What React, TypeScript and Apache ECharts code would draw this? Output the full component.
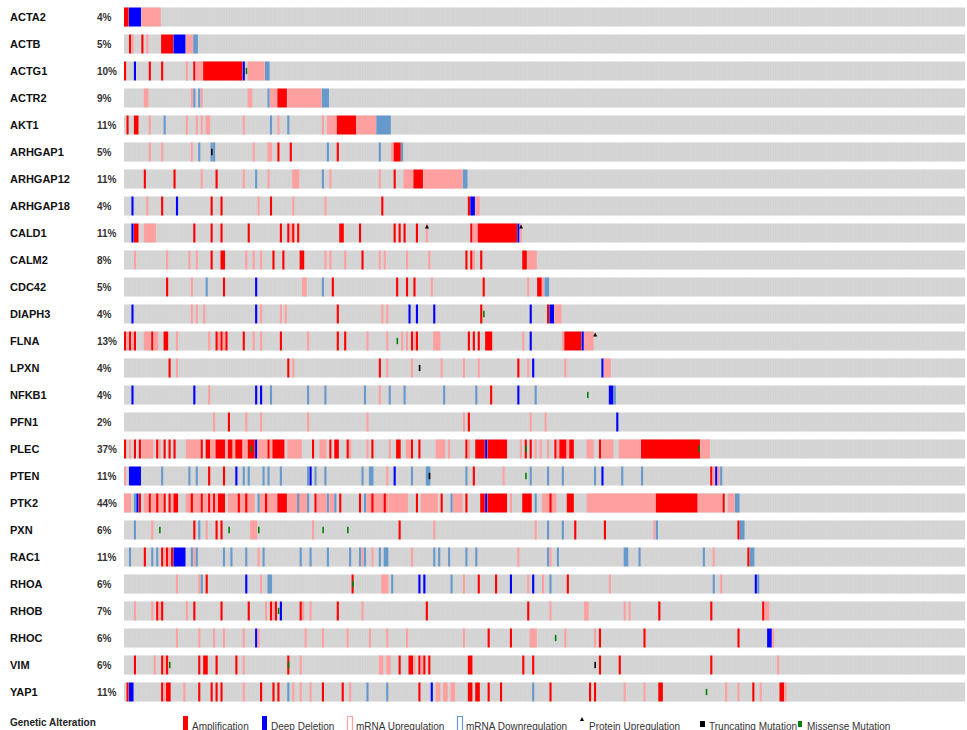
import React, { useEffect, useRef } from "react";
import * as echarts from "echarts";

type Seg = [number, number, string];

const N_SAMPLES = 340;

const GENES = ["ACTA2","ACTB","ACTG1","ACTR2","AKT1","ARHGAP1","ARHGAP12","ARHGAP18","CALD1","CALM2","CDC42","DIAPH3","FLNA","LPXN","NFKB1","PFN1","PLEC","PTEN","PTK2","PXN","RAC1","RHOA","RHOB","RHOC","VIM","YAP1"];
const PCTS = ["4%","5%","10%","9%","11%","5%","11%","4%","11%","8%","5%","4%","13%","4%","4%","2%","37%","11%","44%","6%","11%","6%","7%","6%","6%","11%"];

// [startSample, endSample, type]  A=amp D=deep del U=mRNA up W=mRNA down M=missense T=truncating P=protein up
const ACTA2: Seg[] = [[0,1,"A"],[2,6,"D"],[7,14,"U"]];
const ACTB: Seg[] = [[2,2,"A"],[3,3,"U"],[7,7,"A"],[9,9,"U"],[15,19,"A"],[20,24,"D"],[25,27,"U"],[28,29,"W"]];
const ACTG1: Seg[] = [[0,0,"A"],[4,4,"D"],[10,10,"A"],[15,15,"A"],[25,25,"U"],[28,28,"A"],[29,31,"U"],[32,47,"A"],[48,48,"D"],[49,49,"M"],[50,56,"U"],[57,58,"W"]];
const ACTR2: Seg[] = [[8,9,"U"],[27,27,"U"],[28,28,"W"],[30,30,"W"],[31,31,"U"],[50,51,"U"],[58,58,"W"],[59,61,"U"],[62,65,"A"],[66,79,"U"],[80,82,"W"]];
const AKT1: Seg[] = [[1,1,"A"],[4,5,"A"],[10,10,"U"],[16,16,"W"],[25,25,"U"],[29,29,"U"],[31,31,"U"],[33,34,"U"],[48,48,"U"],[59,59,"W"],[62,62,"U"],[66,66,"W"],[80,80,"U"],[82,85,"U"],[86,93,"A"],[94,101,"U"],[102,107,"W"]];
const ARHGAP1: Seg[] = [[10,10,"U"],[15,15,"U"],[27,27,"U"],[30,30,"W"],[35,35,"W"],[35,35,"T"],[36,36,"W"],[52,52,"U"],[58,59,"U"],[62,62,"A"],[67,67,"A"],[82,82,"W"],[86,86,"A"],[103,103,"W"],[108,108,"U"],[109,111,"A"],[112,112,"W"]];
const ARHGAP12: Seg[] = [[8,8,"A"],[20,20,"A"],[31,31,"U"],[37,37,"A"],[48,48,"U"],[53,53,"W"],[58,58,"U"],[68,70,"U"],[80,80,"W"],[83,83,"U"],[103,103,"U"],[109,109,"A"],[113,116,"U"],[117,120,"A"],[121,136,"U"],[137,138,"W"]];
const ARHGAP18: Seg[] = [[3,3,"D"],[9,9,"U"],[15,15,"A"],[21,21,"D"],[35,35,"A"],[39,39,"A"],[54,54,"U"],[59,59,"A"],[68,68,"U"],[81,81,"U"],[104,104,"A"],[139,139,"A"],[140,141,"D"],[142,143,"U"]];
const CALD1: Seg[] = [[3,3,"D"],[4,5,"A"],[8,12,"U"],[28,28,"A"],[35,35,"A"],[39,39,"A"],[50,50,"A"],[63,63,"A"],[66,66,"A"],[67,67,"U"],[68,68,"A"],[70,70,"A"],[87,88,"A"],[95,95,"A"],[109,109,"A"],[111,111,"A"],[113,113,"A"],[118,118,"A"],[122,122,"U"],[122,122,"P"],[140,140,"A"],[141,142,"U"],[143,158,"A"],[159,159,"D"],[160,160,"U"],[160,160,"P"]];
const CALM2: Seg[] = [[4,4,"U"],[17,17,"U"],[26,26,"U"],[29,29,"U"],[35,35,"A"],[39,40,"A"],[49,49,"U"],[52,52,"U"],[55,55,"U"],[60,60,"A"],[64,64,"A"],[71,72,"A"],[81,81,"U"],[83,83,"U"],[89,89,"U"],[96,96,"A"],[103,103,"U"],[105,105,"U"],[114,114,"U"],[123,123,"U"],[138,138,"A"],[140,140,"A"],[141,141,"U"],[144,144,"A"],[161,162,"A"],[163,166,"U"]];
const CDC42: Seg[] = [[17,17,"A"],[27,27,"U"],[33,33,"W"],[40,40,"A"],[53,53,"D"],[72,73,"U"],[80,80,"W"],[84,84,"A"],[110,110,"A"],[114,114,"A"],[117,117,"A"],[124,124,"U"],[145,145,"A"],[163,163,"U"],[167,168,"A"],[169,169,"U"],[170,171,"W"]];
const DIAPH3: Seg[] = [[3,3,"D"],[27,27,"U"],[29,29,"U"],[32,32,"U"],[53,53,"D"],[55,55,"U"],[63,63,"U"],[65,65,"U"],[86,86,"A"],[104,104,"U"],[106,106,"U"],[115,115,"D"],[118,118,"D"],[125,125,"D"],[144,144,"A"],[145,145,"M"],[164,164,"D"],[171,171,"A"],[172,173,"D"],[174,176,"U"]];
const FLNA: Seg[] = [[0,0,"A"],[1,1,"U"],[2,2,"A"],[3,3,"U"],[4,4,"A"],[8,10,"U"],[11,11,"A"],[12,13,"U"],[16,17,"A"],[21,21,"U"],[34,34,"U"],[37,37,"A"],[38,38,"U"],[39,39,"A"],[40,40,"U"],[41,41,"A"],[48,48,"A"],[52,52,"U"],[55,55,"U"],[63,63,"A"],[74,74,"U"],[86,86,"A"],[89,89,"A"],[98,98,"U"],[106,106,"U"],[110,110,"M"],[112,112,"U"],[114,114,"U"],[116,116,"A"],[117,117,"U"],[118,118,"A"],[125,127,"U"],[139,139,"A"],[141,141,"A"],[143,143,"A"],[146,148,"A"],[161,161,"U"],[164,164,"D"],[177,177,"U"],[178,184,"A"],[185,185,"D"],[186,189,"U"],[190,190,"P"]];
const LPXN: Seg[] = [[18,18,"A"],[21,21,"U"],[66,66,"A"],[68,68,"U"],[103,103,"A"],[106,106,"U"],[116,116,"U"],[119,119,"T"],[128,128,"U"],[137,137,"U"],[143,143,"U"],[159,159,"A"],[163,163,"U"],[165,165,"D"],[178,178,"U"],[193,193,"D"],[194,196,"U"]];
const NFKB1: Seg[] = [[3,3,"D"],[28,28,"D"],[34,34,"U"],[53,53,"D"],[55,55,"D"],[59,59,"W"],[74,74,"W"],[81,81,"W"],[97,97,"W"],[103,103,"U"],[107,107,"W"],[113,113,"W"],[129,129,"W"],[142,142,"W"],[148,148,"A"],[159,159,"D"],[166,166,"W"],[187,187,"M"],[196,197,"D"],[198,198,"W"]];
const PFN1: Seg[] = [[36,36,"U"],[42,42,"A"],[49,49,"U"],[55,55,"U"],[74,74,"U"],[98,98,"U"],[137,137,"U"],[139,139,"A"],[164,164,"U"],[170,170,"U"],[199,199,"D"]];
const PLEC: Seg[] = [[0,0,"A"],[2,2,"U"],[4,4,"A"],[6,6,"A"],[7,11,"U"],[13,13,"A"],[14,14,"U"],[16,16,"A"],[18,18,"A"],[20,20,"A"],[25,30,"U"],[31,31,"A"],[33,34,"A"],[35,36,"U"],[37,40,"A"],[41,41,"U"],[42,43,"A"],[44,44,"U"],[45,47,"A"],[48,49,"U"],[50,52,"A"],[51,51,"M"],[53,53,"D"],[54,57,"U"],[58,58,"A"],[59,59,"U"],[60,64,"A"],[66,71,"U"],[76,76,"A"],[79,81,"U"],[83,83,"A"],[85,86,"A"],[90,90,"A"],[91,91,"U"],[98,98,"U"],[100,100,"A"],[107,107,"U"],[110,111,"A"],[114,115,"U"],[116,116,"A"],[119,119,"A"],[126,129,"U"],[131,131,"U"],[138,138,"A"],[139,139,"U"],[142,145,"A"],[146,146,"D"],[147,154,"A"],[160,160,"U"],[162,162,"A"],[162,162,"M"],[164,164,"A"],[166,166,"U"],[168,168,"U"],[171,171,"U"],[174,174,"A"],[175,175,"U"],[176,178,"A"],[179,179,"U"],[180,181,"A"],[187,189,"U"],[192,192,"A"],[193,197,"U"],[200,208,"U"],[209,232,"A"],[232,232,"M"],[233,236,"U"]];
const PTEN: Seg[] = [[0,0,"U"],[2,6,"D"],[15,15,"W"],[26,26,"W"],[29,29,"W"],[34,34,"A"],[40,40,"A"],[45,45,"D"],[48,48,"W"],[50,50,"W"],[56,56,"W"],[58,58,"W"],[63,63,"W"],[74,74,"W"],[75,75,"D"],[77,77,"W"],[81,81,"W"],[96,96,"W"],[99,100,"W"],[106,106,"U"],[109,109,"D"],[116,116,"W"],[122,123,"W"],[123,123,"T"],[138,138,"W"],[141,141,"A"],[153,153,"U"],[162,162,"M"],[164,164,"W"],[171,171,"W"],[177,177,"W"],[190,190,"W"],[193,193,"D"],[201,201,"W"],[209,209,"W"],[237,237,"A"],[238,238,"U"],[239,239,"D"],[240,240,"U"],[241,241,"W"]];
const PTK2: Seg[] = [[0,2,"U"],[4,4,"W"],[5,5,"D"],[6,6,"A"],[8,9,"U"],[10,10,"A"],[11,15,"U"],[13,13,"A"],[16,16,"A"],[18,18,"A"],[19,19,"U"],[20,21,"A"],[25,30,"U"],[27,27,"A"],[31,31,"A"],[32,33,"U"],[34,34,"A"],[35,35,"U"],[36,36,"A"],[37,37,"U"],[38,40,"A"],[42,52,"U"],[46,46,"A"],[49,49,"A"],[54,54,"W"],[55,61,"U"],[57,57,"A"],[62,65,"A"],[66,74,"U"],[70,70,"W"],[74,74,"W"],[77,77,"A"],[78,81,"U"],[82,82,"W"],[83,84,"U"],[85,85,"W"],[87,87,"A"],[95,95,"A"],[97,97,"W"],[98,106,"U"],[100,100,"A"],[105,105,"A"],[107,114,"U"],[118,118,"A"],[120,126,"U"],[128,128,"A"],[132,132,"W"],[133,136,"U"],[138,138,"A"],[144,145,"A"],[146,146,"D"],[147,154,"A"],[156,156,"U"],[161,164,"A"],[166,166,"W"],[169,174,"U"],[172,172,"A"],[179,181,"A"],[187,214,"U"],[215,231,"A"],[232,241,"U"],[242,242,"A"],[244,246,"U"],[247,248,"W"]];
const PXN: Seg[] = [[4,4,"W"],[11,11,"U"],[14,14,"M"],[28,28,"A"],[30,30,"W"],[33,33,"U"],[37,37,"A"],[39,39,"A"],[42,42,"M"],[51,53,"U"],[54,54,"M"],[76,76,"U"],[80,80,"M"],[90,90,"M"],[111,111,"A"],[125,125,"U"],[166,166,"U"],[171,171,"W"],[177,177,"W"],[182,182,"A"],[194,194,"A"],[214,214,"U"],[215,215,"W"],[248,248,"A"],[249,250,"W"]];
const RAC1: Seg[] = [[2,2,"W"],[8,8,"A"],[11,11,"W"],[13,13,"W"],[15,15,"A"],[16,16,"U"],[17,17,"A"],[18,18,"U"],[19,19,"A"],[20,24,"D"],[27,27,"W"],[28,28,"U"],[29,29,"W"],[40,40,"W"],[43,43,"W"],[49,49,"W"],[54,54,"U"],[56,56,"W"],[71,71,"W"],[75,75,"W"],[82,82,"W"],[91,91,"W"],[95,95,"W"],[96,96,"U"],[97,97,"W"],[100,100,"U"],[103,103,"W"],[105,106,"W"],[116,116,"U"],[125,125,"W"],[127,127,"W"],[131,131,"W"],[138,138,"W"],[142,142,"W"],[159,159,"U"],[171,171,"W"],[172,172,"U"],[175,175,"W"],[202,203,"W"],[208,208,"W"],[234,234,"W"],[238,238,"U"],[252,252,"A"],[253,254,"W"]];
const RHOA: Seg[] = [[21,21,"U"],[30,30,"U"],[31,31,"W"],[33,33,"A"],[49,49,"D"],[55,55,"U"],[58,59,"W"],[92,92,"A"],[92,92,"M"],[104,106,"U"],[108,108,"W"],[119,119,"D"],[121,121,"D"],[132,132,"W"],[137,137,"U"],[143,143,"A"],[150,150,"A"],[156,156,"D"],[163,163,"U"],[165,165,"D"],[169,169,"U"],[172,172,"W"],[179,179,"A"],[196,196,"U"],[238,238,"W"],[241,241,"U"],[255,255,"D"],[256,256,"W"]];
const RHOB: Seg[] = [[4,4,"U"],[11,11,"U"],[13,13,"A"],[14,14,"U"],[15,15,"A"],[25,25,"U"],[28,28,"A"],[39,39,"A"],[50,50,"A"],[57,57,"U"],[59,59,"A"],[60,60,"U"],[61,61,"A"],[62,62,"M"],[63,63,"D"],[71,71,"A"],[72,72,"U"],[75,75,"U"],[86,86,"A"],[96,96,"U"],[122,122,"A"],[163,163,"A"],[172,172,"U"],[186,187,"U"],[202,202,"U"],[204,204,"U"],[216,216,"A"],[237,237,"A"],[258,258,"A"],[259,260,"U"]];
const RHOC: Seg[] = [[21,21,"U"],[30,30,"U"],[36,36,"U"],[40,40,"U"],[48,48,"U"],[53,53,"D"],[54,54,"U"],[73,73,"U"],[80,80,"U"],[90,90,"U"],[99,99,"U"],[106,106,"U"],[114,114,"U"],[137,137,"U"],[147,147,"A"],[156,156,"A"],[164,166,"U"],[174,174,"M"],[178,178,"U"],[190,190,"U"],[192,192,"A"],[210,210,"A"],[248,248,"A"],[260,261,"D"],[262,262,"U"]];
const VIM: Seg[] = [[4,4,"A"],[12,12,"U"],[15,15,"A"],[16,16,"U"],[17,17,"A"],[18,18,"M"],[30,30,"A"],[32,33,"A"],[37,37,"A"],[45,45,"A"],[48,48,"U"],[66,66,"A"],[66,66,"M"],[71,71,"U"],[103,104,"U"],[106,107,"U"],[111,111,"A"],[115,116,"A"],[117,117,"U"],[119,119,"A"],[120,120,"U"],[121,121,"A"],[123,123,"A"],[139,140,"A"],[161,161,"A"],[165,165,"A"],[190,190,"T"],[192,192,"A"],[200,200,"A"],[237,237,"A"],[264,264,"U"]];
const YAP1: Seg[] = [[1,1,"A"],[2,3,"D"],[15,15,"A"],[16,16,"U"],[17,18,"A"],[24,24,"U"],[30,30,"A"],[35,35,"A"],[37,37,"A"],[39,39,"A"],[48,48,"U"],[55,55,"A"],[60,60,"A"],[62,62,"A"],[66,66,"W"],[68,68,"U"],[71,71,"U"],[75,75,"U"],[80,80,"A"],[88,88,"A"],[91,91,"U"],[98,98,"W"],[106,106,"W"],[119,119,"A"],[124,124,"D"],[126,127,"U"],[129,130,"U"],[132,133,"U"],[139,140,"A"],[142,143,"A"],[147,147,"A"],[152,152,"A"],[165,165,"W"],[172,172,"A"],[188,188,"A"],[190,190,"A"],[202,202,"U"],[210,210,"U"],[216,217,"A"],[235,235,"M"],[243,243,"U"],[248,248,"U"],[254,254,"A"],[257,257,"U"],[265,266,"A"],[267,267,"U"]];

const ROWS: Seg[][] = [ACTA2,ACTB,ACTG1,ACTR2,AKT1,ARHGAP1,ARHGAP12,ARHGAP18,CALD1,CALM2,CDC42,DIAPH3,FLNA,LPXN,NFKB1,PFN1,PLEC,PTEN,PTK2,PXN,RAC1,RHOA,RHOB,RHOC,VIM,YAP1];

const LEGEND_TITLE = "Genetic Alteration";
const LEGEND_LABELS = ["Amplification","Deep Deletion","mRNA Upregulation","mRNA Downregulation","Protein Upregulation","Truncating Mutation","Missense Mutation"];

const FILL: Record<string, string> = { A: "#FF0000", D: "#0000FF", U: "#FFA0A0", W: "#6699CC" };
const FONT = "'Liberation Sans', Arial, sans-serif";

export default function App() {
  const ref = useRef<HTMLDivElement>(null);
  useEffect(() => {
    if (!ref.current) return;
    const chart = echarts.init(ref.current, undefined, { renderer: "svg" });

    const alt: [number, number, number, string][] = [];
    const mut: [number, number, number, string][] = [];
    ROWS.forEach((row, g) => {
      row.forEach(([s, e, t]) => {
        if (FILL[t]) alt.push([s, e, g, t]);
        else mut.push([s, e, g, t]);
      });
    });

    const bgRender = (params: any, api: any) => {
      const g = params.dataIndex;
      const p0 = api.coord([0, g]);
      const p1 = api.coord([N_SAMPLES, g]);
      const bh = api.size([0, 1])[1] * 0.7;
      const y0 = p0[1] - bh / 2;
      const step = (p1[0] - p0[0]) / N_SAMPLES;
      let d = "";
      for (let i = 1; i < N_SAMPLES; i++) {
        const x = (p0[0] + i * step).toFixed(2);
        d += `M${x} ${y0.toFixed(2)}V${(y0 + bh).toFixed(2)}`;
      }
      return {
        type: "group",
        children: [
          { type: "rect", shape: { x: p0[0], y: y0, width: p1[0] - p0[0], height: bh }, style: { fill: "#D3D3D3" } },
          { type: "path", shape: { pathData: d }, style: { stroke: "#DADADA", lineWidth: 0.5, fill: "none" } },
        ],
      };
    };
    const altRender = (params: any, api: any) => {
      const d = alt[params.dataIndex];
      const p0 = api.coord([d[0], d[2]]);
      const p1 = api.coord([d[1] + 1, d[2]]);
      const bh = api.size([0, 1])[1] * 0.7;
      return { type: "rect", shape: { x: p0[0], y: p0[1] - bh / 2, width: Math.max(p1[0] - p0[0] - 0.35, 1), height: bh }, style: { fill: FILL[d[3]] } };
    };
    const mutRender = (params: any, api: any) => {
      const d = mut[params.dataIndex];
      const p0 = api.coord([d[0], d[2]]);
      const p1 = api.coord([d[1] + 1, d[2]]);
      const bh = api.size([0, 1])[1] * 0.7;
      const cx = (p0[0] + p1[0]) / 2;
      if (d[3] === "P") {
        return { type: "polygon", shape: { points: [[cx - 2, p0[1] - bh / 2 + 5], [cx + 2, p0[1] - bh / 2 + 5], [cx, p0[1] - bh / 2 + 1]] }, style: { fill: "#000" } };
      }
      return { type: "rect", shape: { x: cx - 0.8, y: p0[1] - bh / 6, width: 1.6, height: bh / 3 }, style: { fill: d[3] === "M" ? "#008000" : "#000" } };
    };

    const legendX = [183, 262, 347, 457, 580, 700, 798];
    const legendY = 716;
    const graphics: any[] = [
      { type: "text", left: 10, top: 717, style: { text: LEGEND_TITLE, fill: "#222", font: `bold 10px ${FONT}` } },
    ];
    LEGEND_LABELS.forEach((lab, i) => {
      const x = legendX[i];
      if (i === 0) graphics.push({ type: "rect", shape: { x, y: legendY, width: 5, height: 14 }, style: { fill: "#FF0000" } });
      if (i === 1) graphics.push({ type: "rect", shape: { x, y: legendY, width: 5, height: 14 }, style: { fill: "#0000FF" } });
      if (i === 2) graphics.push({ type: "rect", shape: { x: x + 0.5, y: legendY + 0.5, width: 5, height: 14 }, style: { fill: "#fff", stroke: "#FFA0A0", lineWidth: 1.2 } });
      if (i === 3) graphics.push({ type: "rect", shape: { x: x + 0.5, y: legendY + 0.5, width: 5, height: 14 }, style: { fill: "#fff", stroke: "#6699CC", lineWidth: 1.2 } });
      if (i === 4) graphics.push({ type: "polygon", shape: { points: [[x, legendY + 5], [x + 4, legendY + 5], [x + 2, legendY + 1]] }, style: { fill: "#000" } });
      if (i === 5) graphics.push({ type: "rect", shape: { x, y: legendY + 5, width: 5, height: 6 }, style: { fill: "#000" } });
      if (i === 6) graphics.push({ type: "rect", shape: { x, y: legendY + 5, width: 4, height: 6 }, style: { fill: "#008000" } });
      graphics.push({ type: "text", x: x + 9, y: legendY + 5, style: { text: lab, fill: "#333", font: `10px ${FONT}` } });
    });

    chart.setOption({
      animation: false,
      backgroundColor: "#ffffff",
      grid: { left: 124, right: 2, top: 3.5, bottom: 24.5, containLabel: false },
      xAxis: { type: "value", min: 0, max: N_SAMPLES, show: false },
      yAxis: {
        type: "category",
        data: GENES,
        inverse: true,
        axisLine: { show: false },
        axisTick: { show: false },
        splitLine: { show: false },
        axisLabel: {
          margin: 114,
          align: "left",
          formatter: (v: string, i: number) => `{g|${v}}{p|${PCTS[i]}}`,
          rich: {
            g: { width: 87, fontWeight: "bold", fontSize: 11, fontFamily: FONT, color: "#111" },
            p: { fontWeight: "bold", fontSize: 10, fontFamily: FONT, color: "#333" },
          },
        },
      },
      graphic: graphics,
      series: [
        { type: "custom", renderItem: bgRender, data: GENES.map((_, g) => [0, N_SAMPLES, g]), encode: { x: [0, 1], y: 2 }, silent: true },
        { type: "custom", renderItem: altRender, data: alt.map((d) => [d[0], d[1] + 1, d[2]]), encode: { x: [0, 1], y: 2 }, silent: true },
        { type: "custom", renderItem: mutRender, data: mut.map((d) => [d[0], d[1] + 1, d[2]]), encode: { x: [0, 1], y: 2 }, silent: true },
      ],
    });
    return () => chart.dispose();
  }, []);
  return <div ref={ref} style={{ position: "absolute", left: 0, top: 0, width: 967, height: 730 }} />;
}
